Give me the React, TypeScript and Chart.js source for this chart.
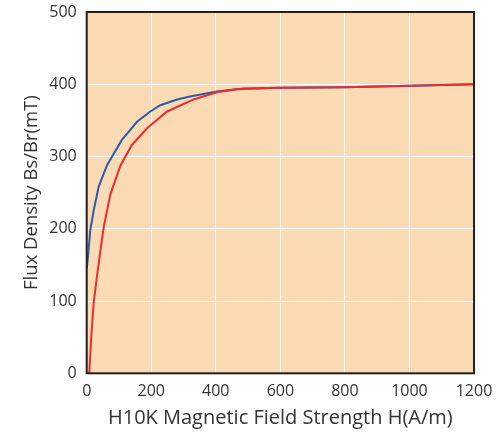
import React, { useEffect, useRef } from "react";
import { Chart, registerables } from "chart.js";

Chart.register(...registerables);

const blueH = [0, 4, 11, 22, 37, 63, 109, 156, 196, 228, 280, 320, 403, 486, 600, 800, 1000, 1200];
const blueB = [145, 161, 198, 226, 258, 288, 323, 348, 362, 371, 379, 383, 390, 394, 395, 396, 398, 400];
const redH = [8, 14, 22, 32, 47, 53, 73, 104, 140, 187, 248, 331, 403, 465, 589, 800, 1000, 1200];
const redB = [0, 50, 99, 135, 184, 203, 247, 287, 316, 339, 362, 379, 389, 393, 395, 396, 398, 400];

const xTitle = "H10K Magnetic Field Strength H(A/m)";
const yTitle = "Flux Density Bs/Br(mT)";

const zip = (xs: number[], ys: number[]) => xs.map((x, i) => ({ x, y: ys[i] }));

const frame = {
  id: "frame",
  beforeDraw(chart: any) {
    const { ctx, chartArea: a } = chart;
    ctx.save();
    ctx.fillStyle = "#FCDAB3";
    ctx.fillRect(a.left, a.top, a.right - a.left, a.bottom - a.top);
    ctx.restore();
  },
  afterDraw(chart: any) {
    const { ctx, chartArea: a } = chart;
    ctx.save();
    ctx.strokeStyle = "#231F20";
    ctx.lineWidth = 2;
    ctx.strokeRect(a.left, a.top, a.right - a.left, a.bottom - a.top);
    ctx.restore();
  },
};

export default function App() {
  const ref = useRef<HTMLCanvasElement | null>(null);
  useEffect(() => {
    if (!ref.current) return;
    const chart = new Chart(ref.current, {
      type: "line",
      data: {
        datasets: [
          {
            data: zip(redH, redB),
            borderColor: "#EE2B30",
            borderWidth: 2,
            pointRadius: 0,
            tension: 0,
          },
          {
            data: zip(blueH, blueB),
            borderColor: "#2A5CAA",
            borderWidth: 2,
            pointRadius: 0,
            tension: 0,
          },
        ],
      },
      options: {
        animation: false,
        responsive: false,
        maintainAspectRatio: false,
        layout: { padding: { left: 0, top: 12, right: 29, bottom: 0 } },
        plugins: { legend: { display: false }, tooltip: { enabled: false } },
        scales: {
          x: {
            type: "linear",
            min: 0,
            max: 1200,
            ticks: {
              stepSize: 200,
              color: "#333",
              padding: 9,
              font: { family: "Open Sans", size: 16 },
              callback: (v: any) => String(v),
            },
            grid: { color: "#FFFFFF", lineWidth: 1, drawTicks: false },
            border: { display: false },
            title: {
              display: true,
              text: xTitle,
              color: "#333",
              font: { family: "Open Sans", size: 20 },
              padding: { top: 0, bottom: 4 },
            },
            afterFit(s: any) {
              s.height = 434 - 373.3;
              s.paddingLeft = 0;
              s.paddingRight = 0;
            },
          },
          y: {
            min: 0,
            max: 500,
            ticks: {
              stepSize: 100,
              color: "#333",
              padding: 10,
              font: { family: "Open Sans", size: 16 },
              callback: (v: any) => String(v),
            },
            grid: { color: "#FFFFFF", lineWidth: 1, drawTicks: false },
            border: { display: false },
            title: {
              display: true,
              text: yTitle,
              color: "#333",
              font: { family: "Open Sans", size: 18.5 },
              padding: { top: 21, bottom: 0 },
            },
            afterFit(s: any) {
              s.width = 86.7;
              s.paddingTop = 0;
              s.paddingBottom = 0;
            },
          },
        },
      },
      plugins: [frame],
    });
    return () => chart.destroy();
  }, []);
  return (
    <div style={{ position: "fixed", left: 0, top: 0, width: 503, height: 434, background: "#fff" }}>
      <canvas ref={ref} width={503} height={434} style={{ width: 503, height: 434 }} />
    </div>
  );
}
